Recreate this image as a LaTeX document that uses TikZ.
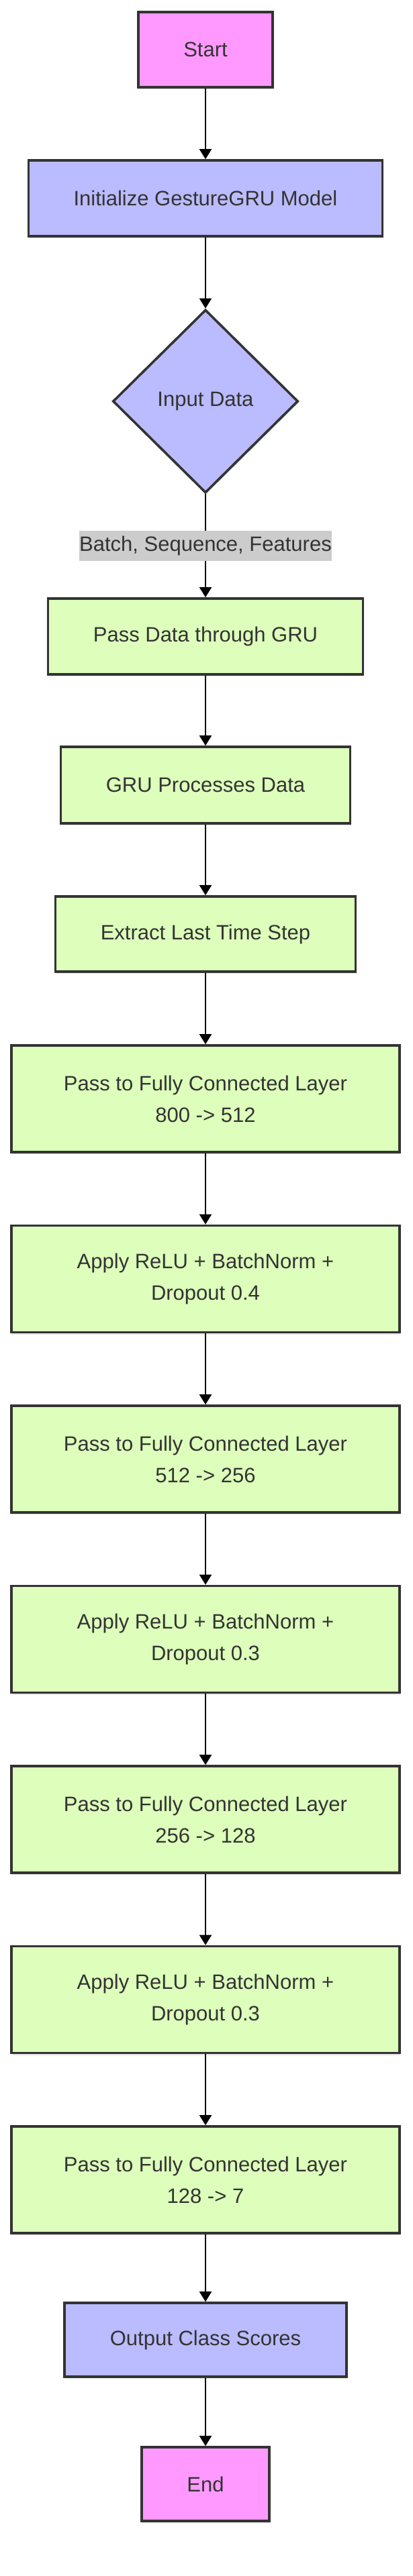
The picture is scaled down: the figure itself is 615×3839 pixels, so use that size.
\documentclass[tikz,border=0pt]{standalone}
\usepackage{fontspec}
\setmainfont{Liberation Sans}
\usetikzlibrary{arrows.meta,shapes.geometric,shadows}
\definecolor{pinkfill}{HTML}{FF99FF}
\definecolor{bluefill}{HTML}{BBBBFF}
\definecolor{greenfill}{HTML}{DDFFBB}
\definecolor{edgegray}{HTML}{333333}
\definecolor{labelgray}{HTML}{CCCCCC}
\tikzset{
  base/.style={draw=edgegray, line width=3.6pt, text=edgegray,
    font=\fontsize{31}{47}\selectfont, align=center, inner sep=0pt,
    drop shadow={shadow xshift=1pt, shadow yshift=-3pt, opacity=0.10, fill=black}},
  box/.style={base, rectangle},
  terminal/.style={box, fill=pinkfill},
  bluebox/.style={box, fill=bluefill},
  greenbox/.style={box, fill=greenfill},
  decision/.style={base, diamond, fill=bluefill},
  conn/.style={draw=black, line width=2pt, -{Triangle[width=18pt,length=15pt]}},
  lbl/.style={fill=labelgray, text=edgegray, font=\fontsize{31}{47}\selectfont,
    inner xsep=0pt, inner ysep=0pt, minimum height=45pt}
}
\begin{document}
\begin{tikzpicture}[x=1pt,y=-1pt]
\useasboundingbox (0,0) rectangle (615,3839);
\node[terminal, minimum width=200pt, minimum height=112pt] (start) at (306,74) {Start};
\node[bluebox, minimum width=527pt, minimum height=113pt] (init) at (306,295.5) {Initialize GestureGRU Model};
\node[decision, minimum width=276pt, minimum height=273pt] (input) at (306,598) {Input Data};
\node[greenbox, minimum width=469pt, minimum height=113pt] (pass) at (306,948.5) {Pass Data through GRU};
\node[greenbox, minimum width=431pt, minimum height=114pt] (gru) at (306,1170) {GRU Processes Data};
\node[greenbox, minimum width=447pt, minimum height=112pt] (extract) at (306,1392) {Extract Last Time Step};
\node[greenbox, minimum width=578pt, minimum height=159pt] (fca) at (306,1637.5) {Pass to Fully Connected Layer\\800 -> 512};
\node[greenbox, minimum width=578pt, minimum height=159pt] (relua) at (306,1906) {Apply ReLU + BatchNorm +\\Dropout 0.4};
\node[greenbox, minimum width=578pt, minimum height=159pt] (fcb) at (306,2174.5) {Pass to Fully Connected Layer\\512 -> 256};
\node[greenbox, minimum width=578pt, minimum height=159pt] (relub) at (306,2443) {Apply ReLU + BatchNorm +\\Dropout 0.3};
\node[greenbox, minimum width=578pt, minimum height=159pt] (fcc) at (306,2711.5) {Pass to Fully Connected Layer\\256 -> 128};
\node[greenbox, minimum width=578pt, minimum height=159pt] (reluc) at (306,2980) {Apply ReLU + BatchNorm +\\Dropout 0.3};
\node[greenbox, minimum width=578pt, minimum height=159pt] (fcd) at (306,3248.5) {Pass to Fully Connected Layer\\128 -> 7};
\node[bluebox, minimum width=420pt, minimum height=110pt] (output) at (306,3487) {Output Class Scores};
\node[terminal, minimum width=190pt, minimum height=110pt] (end) at (306,3702) {End};

\draw[conn] (start) -- (init);
\draw[conn] (init) -- (input);
\draw[conn] (input) -- node[lbl] {Batch, Sequence, Features} (pass);
\draw[conn] (pass) -- (gru);
\draw[conn] (gru) -- (extract);
\draw[conn] (extract) -- (fca);
\draw[conn] (fca) -- (relua);
\draw[conn] (relua) -- (fcb);
\draw[conn] (fcb) -- (relub);
\draw[conn] (relub) -- (fcc);
\draw[conn] (fcc) -- (reluc);
\draw[conn] (reluc) -- (fcd);
\draw[conn] (fcd) -- (output);
\draw[conn] (output) -- (end);
\end{tikzpicture}
\end{document}
